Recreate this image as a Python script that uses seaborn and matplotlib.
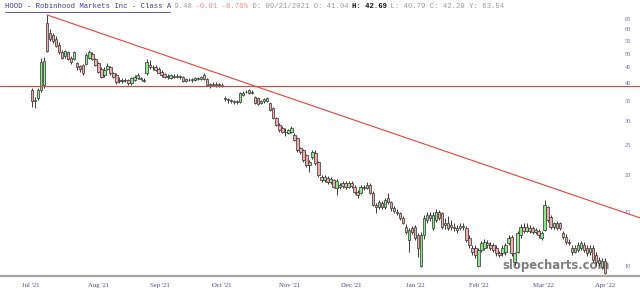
import numpy as np
import pandas as pd
import matplotlib
matplotlib.use("Agg")
import matplotlib.pyplot as plt
import seaborn as sns
from matplotlib.ticker import NullLocator
from matplotlib.lines import Line2D

# ---------------- data (daily OHLC, trading-day order) ----------------
OPEN = [38.0, 34.9, 35.6, 37.8, 39.5, 63.0, 58.5, 57.5, 56.0, 53.5,
        50.5, 49.0, 50.5, 48.5, 48.0, 46.5, 45.5, 45.8, 46.3, 48.5,
        49.8, 48.0, 46.5, 44.5, 42.5, 44.5, 45.0, 43.0, 42.5, 41.0,
        40.6, 41.0, 41.0, 40.0, 41.0, 41.5, 41.5, 41.0, 43.0, 46.0,
        45.3, 45.3, 44.5, 43.5, 42.8, 42.3, 41.6, 42.3, 42.0, 42.2,
        41.8, 40.6, 41.0, 40.8, 41.0, 41.4, 41.3, 42.5, 41.3, 39.6,
        39.5, 39.8, 39.4, 39.5, 35.8, 35.4, 35.1, 34.9, 34.6, 34.6,
        36.6, 37.3, 37.2, 37.5, 36.0, 35.6, 34.4, 34.8, 35.0, 34.3,
        33.1, 30.7, 29.1, 28.4, 27.7, 27.4, 27.6, 27.0, 26.4, 24.4,
        24.1, 23.2, 21.5, 22.8, 23.6, 22.0, 19.6, 19.2, 19.5, 18.9,
        19.2, 18.1, 18.5, 18.3, 18.7, 18.2, 18.7, 18.2, 17.5, 17.4,
        18.2, 18.1, 18.5, 17.4, 15.9, 15.6, 16.1, 15.6, 16.7, 16.2,
        15.5, 15.1, 14.9, 14.4, 13.4, 12.2, 13.3, 13.4, 12.6, 10.0,
        12.6, 14.2, 14.7, 13.3, 14.2, 15.1, 14.9, 13.6, 13.9, 13.4,
        13.3, 13.3, 13.3, 13.5, 13.3, 12.4, 11.5, 11.5, 10.0, 11.3,
        11.5, 11.9, 11.7, 11.7, 11.5, 11.0, 11.0, 11.1, 11.9, 12.5,
        10.3, 11.1, 12.6, 13.4, 13.0, 13.3, 13.3, 12.9, 13.0, 12.4,
        13.1, 15.6, 14.5, 13.4, 13.9, 13.9, 12.8, 12.5, 12.0, 11.5,
        11.1, 11.3, 11.5, 11.7, 11.5, 11.1, 11.5, 10.9, 10.5, 9.9,
        10.4]
HIGH = [38.6, 36.0, 38.6, 48.3, 48.6, 67.0, 60.0, 58.5, 57.0, 54.5,
        51.5, 51.5, 51.0, 49.0, 51.0, 47.0, 46.0, 46.2, 50.2, 51.5,
        50.5, 48.5, 47.0, 45.0, 45.0, 46.5, 45.5, 43.5, 43.0, 41.8,
        41.5, 41.5, 41.3, 42.0, 42.5, 43.0, 42.0, 41.4, 47.8, 47.5,
        46.0, 45.8, 45.0, 44.0, 43.3, 42.8, 42.8, 42.7, 42.8, 42.6,
        42.2, 41.6, 41.5, 41.5, 42.0, 41.9, 42.2, 43.3, 41.6, 40.0,
        40.2, 40.2, 40.0, 39.9, 36.2, 35.8, 35.5, 35.3, 35.2, 37.5,
        37.6, 37.8, 38.2, 37.8, 36.3, 36.0, 35.3, 35.8, 36.1, 34.7,
        33.4, 31.0, 29.5, 28.8, 28.4, 28.3, 28.8, 27.3, 26.6, 24.6,
        24.3, 23.4, 22.3, 24.1, 24.0, 22.2, 19.9, 19.9, 19.8, 19.6,
        19.4, 19.3, 18.8, 19.1, 19.0, 19.1, 19.0, 18.5, 17.8, 18.5,
        18.5, 18.9, 18.8, 17.6, 16.1, 16.5, 16.4, 16.8, 17.4, 16.4,
        15.7, 15.4, 15.1, 14.6, 13.7, 13.3, 13.5, 13.6, 12.8, 12.9,
        14.7, 15.0, 15.0, 15.0, 15.4, 15.3, 15.1, 14.4, 14.6, 14.2,
        13.9, 13.6, 13.9, 13.8, 13.5, 12.6, 11.7, 11.7, 11.5, 12.1,
        12.3, 12.2, 12.0, 11.9, 11.7, 11.2, 11.7, 11.9, 12.6, 12.6,
        11.1, 13.0, 13.7, 13.9, 13.9, 13.6, 13.5, 13.3, 13.2, 13.0,
        16.5, 15.8, 14.7, 14.0, 14.1, 14.0, 13.0, 12.7, 12.3, 11.7,
        11.7, 12.0, 12.1, 12.0, 11.7, 11.7, 11.7, 11.1, 10.7, 10.6,
        10.6]
LOW = [33.4, 33.2, 35.2, 37.3, 38.6, 50.6, 54.8, 54.0, 52.5, 50.0,
       47.8, 48.5, 47.5, 46.3, 47.5, 44.0, 43.5, 42.5, 45.8, 48.0,
       47.5, 45.5, 43.0, 41.5, 42.0, 44.0, 42.5, 41.5, 39.8, 40.0,
       40.0, 40.3, 39.5, 39.5, 40.5, 41.2, 40.8, 40.2, 42.5, 44.6,
       44.3, 43.8, 43.0, 42.0, 41.6, 41.3, 41.2, 41.6, 41.7, 41.3,
       40.2, 40.2, 40.5, 40.4, 40.7, 40.8, 41.0, 41.0, 39.0, 38.5,
       39.2, 38.8, 38.9, 38.7, 35.0, 34.4, 34.3, 34.0, 34.2, 34.4,
       36.3, 37.0, 36.9, 36.8, 34.0, 33.8, 34.0, 34.4, 34.7, 32.3,
       30.4, 28.8, 27.7, 27.3, 26.8, 27.1, 27.3, 25.7, 23.8, 23.3,
       22.0, 21.2, 20.4, 22.5, 21.5, 19.6, 18.9, 18.9, 18.6, 18.6,
       18.0, 17.1, 17.9, 18.0, 17.9, 18.0, 18.1, 17.3, 16.8, 17.2,
       17.8, 17.9, 17.2, 15.7, 14.9, 15.4, 15.4, 15.4, 16.0, 15.2,
       14.9, 14.7, 14.2, 13.7, 12.7, 11.1, 12.7, 12.2, 10.7, 9.9,
       12.3, 13.9, 14.1, 13.1, 14.0, 14.2, 13.2, 13.2, 13.1, 13.1,
       13.0, 12.8, 13.1, 13.1, 12.0, 11.5, 10.9, 10.6, 9.9, 11.1,
       11.3, 11.5, 11.3, 11.1, 10.8, 10.7, 10.8, 10.9, 11.7, 10.8,
       10.1, 11.0, 12.4, 12.8, 12.9, 12.8, 12.7, 12.7, 12.4, 12.2,
       13.0, 14.0, 13.2, 13.2, 13.1, 13.1, 12.3, 11.8, 11.7, 10.9,
       11.0, 11.1, 11.3, 11.1, 10.8, 10.9, 10.3, 10.1, 10.0, 9.8,
       9.4]
CLOSE = [34.8, 35.2, 37.9, 46.8, 47.3, 51.0, 56.0, 55.0, 53.0, 50.5,
         48.5, 50.8, 48.0, 46.8, 50.5, 45.0, 44.5, 43.0, 49.5, 50.5,
         48.0, 46.0, 43.5, 42.0, 44.3, 45.5, 43.0, 42.0, 40.3, 40.6,
         41.0, 40.8, 39.9, 41.5, 42.0, 42.5, 41.3, 40.7, 46.8, 45.2,
         45.0, 44.2, 43.3, 42.5, 42.0, 41.8, 42.4, 42.0, 42.3, 41.8,
         40.5, 41.2, 40.8, 41.1, 41.6, 41.2, 41.8, 41.3, 39.4, 39.4,
         39.8, 39.3, 39.6, 39.2, 35.5, 35.2, 34.8, 34.6, 34.9, 37.1,
         37.2, 37.5, 37.8, 37.2, 34.3, 34.1, 34.9, 35.4, 35.7, 32.6,
         30.7, 29.1, 28.0, 27.6, 27.5, 28.0, 28.4, 26.0, 24.1, 23.7,
         22.3, 21.5, 22.0, 23.7, 21.8, 19.9, 19.2, 19.6, 18.9, 19.3,
         18.2, 19.0, 18.2, 18.8, 18.2, 18.8, 18.4, 17.5, 17.1, 18.2,
         18.0, 18.5, 17.4, 15.9, 15.6, 16.2, 15.6, 16.5, 16.2, 15.5,
         15.2, 14.9, 14.4, 13.9, 12.9, 13.1, 12.9, 12.4, 11.5, 12.6,
         14.4, 14.7, 14.4, 14.7, 15.1, 14.4, 13.4, 13.9, 13.3, 13.6,
         13.4, 13.1, 13.5, 13.4, 12.2, 11.7, 11.1, 10.9, 11.3, 11.9,
         12.0, 11.7, 11.5, 11.3, 11.0, 10.9, 11.5, 11.7, 12.4, 11.0,
         11.0, 12.8, 13.4, 13.0, 13.4, 13.0, 12.9, 13.1, 12.6, 12.8,
         15.9, 14.2, 13.4, 13.8, 13.3, 13.3, 12.5, 12.0, 11.9, 11.1,
         11.5, 11.7, 11.9, 11.3, 11.0, 11.5, 10.5, 10.3, 10.2, 10.4,
         9.48]

MONTH_LABELS = ["Jul '21", "Aug '21", "Sep '21", "Oct '21", "Nov '21",
                "Dec '21", "Jan '22", "Feb '22", "Mar '22", "Apr '22"]
MONTH_TICK_DAYS = [-0.5, 22, 42.5, 63, 85.5, 106, 127, 148, 169.5, 190]
PRICE_TICKS = [10, 15, 20, 25, 30, 35, 40, 45, 50, 55, 60, 65]

IPO_LEVEL = 39.0                    # horizontal reference line
TREND_DAYS = [5, 201.6]             # downtrend line anchors (day index)
TREND_PRICES = [67.0, 14.4]         # downtrend line anchors (price)

HEADER = [("HOOD - Robinhood Markets Inc - Class A", "#3c3ca0", "normal"),
          (" 9.48", "#9a9a9a", "normal"),
          (" -0.91 -8.76%", "#f08a8a", "normal"),
          (" D: 09/21/2021 O: 41.04 ", "#9a9a9a", "normal"),
          ("H: 42.69", "#111111", "bold"),
          (" L: 40.79 C: 42.29 Y: 63.54", "#9a9a9a", "normal")]

# ---------------- figure ----------------
sns.set_theme(style="white")
W, H = 640, 299
fig = plt.figure(figsize=(W / 100, H / 100), dpi=100)
ax = fig.add_axes([0, 23 / H, 1, 264 / H])

df = pd.DataFrame({"day": np.arange(len(CLOSE)), "open": OPEN, "high": HIGH,
                   "low": LOW, "close": CLOSE})
df["up"] = df["close"] >= df["open"]
df["bottom"] = df[["open", "close"]].min(axis=1)
df["height"] = (df["close"] - df["open"]).abs().clip(lower=0.06)

ax.set_yscale("log")
GREEN, PINK = "#8fe68f", "#f0a9a9"

# reference lines
ax.axhline(IPO_LEVEL, color="#e8403c", lw=0.8, zorder=4)
sns.lineplot(x=TREND_DAYS, y=TREND_PRICES, ax=ax, color="#e8403c", lw=0.8,
             zorder=4, legend=False)

# candles
ax.vlines(df["day"], df["low"], df["high"], color="#2e2e2e", lw=0.65, zorder=2)
ax.bar(df["day"], df["height"], bottom=df["bottom"], width=0.82,
       color=np.where(df["up"], GREEN, PINK), edgecolor="#3e3e3e",
       linewidth=0.55, zorder=3)

ax.set_xlim(-10.6, 201.6)
ax.set_ylim(9.27, 68.5)

for side in ["top", "left", "right"]:
    ax.spines[side].set_visible(False)
ax.spines["bottom"].set_color("#a8a8a8")
ax.spines["bottom"].set_linewidth(1.6)

# y ticks inside on the right
ax.yaxis.tick_right()
ax.set_yticks(PRICE_TICKS)
ax.set_yticklabels([str(v) for v in PRICE_TICKS])
ax.yaxis.set_minor_locator(NullLocator())
ax.tick_params(axis="y", length=0, pad=-8.6, labelsize=4.6,
               labelcolor="#6a6aa8")
for lbl in ax.get_yticklabels():
    lbl.set_ha("center")
    lbl.set_family("Liberation Serif")

# x ticks
ax.set_xticks(MONTH_TICK_DAYS)
ax.set_xticklabels(MONTH_LABELS)
ax.xaxis.set_minor_locator(NullLocator())
ax.tick_params(axis="x", length=0, pad=5, labelsize=4.9, labelcolor="#4a4a8a")
for lbl in ax.get_xticklabels():
    lbl.set_family("Liberation Serif")
ax.grid(False)
ax.set_xlabel("")
ax.set_ylabel("")

# watermark
ax.text(556.5 / W, 1 - 266 / H, "slopecharts.com", transform=fig.transFigure,
        ha="center", va="center", fontsize=8.4, fontweight="bold",
        color="#7e7e7e", family="DejaVu Sans", zorder=1)

# header
fs = 5.2
cw = 0.6 * fs * 100 / 72
x = 5.0
for txt, col, wt in HEADER:
    fig.text(x / W, 1 - 7 / H, txt, ha="left", va="center", fontsize=fs,
             color=col, fontweight=wt, family="Liberation Mono")
    x += len(txt) * cw
title_len = len(HEADER[0][0]) * cw
fig.add_artist(Line2D([5 / W, (5 + title_len) / W], [1 - 11.5 / H] * 2,
                      color="#3c3ca0", lw=0.6))

fig.savefig("out.png", dpi=100)
